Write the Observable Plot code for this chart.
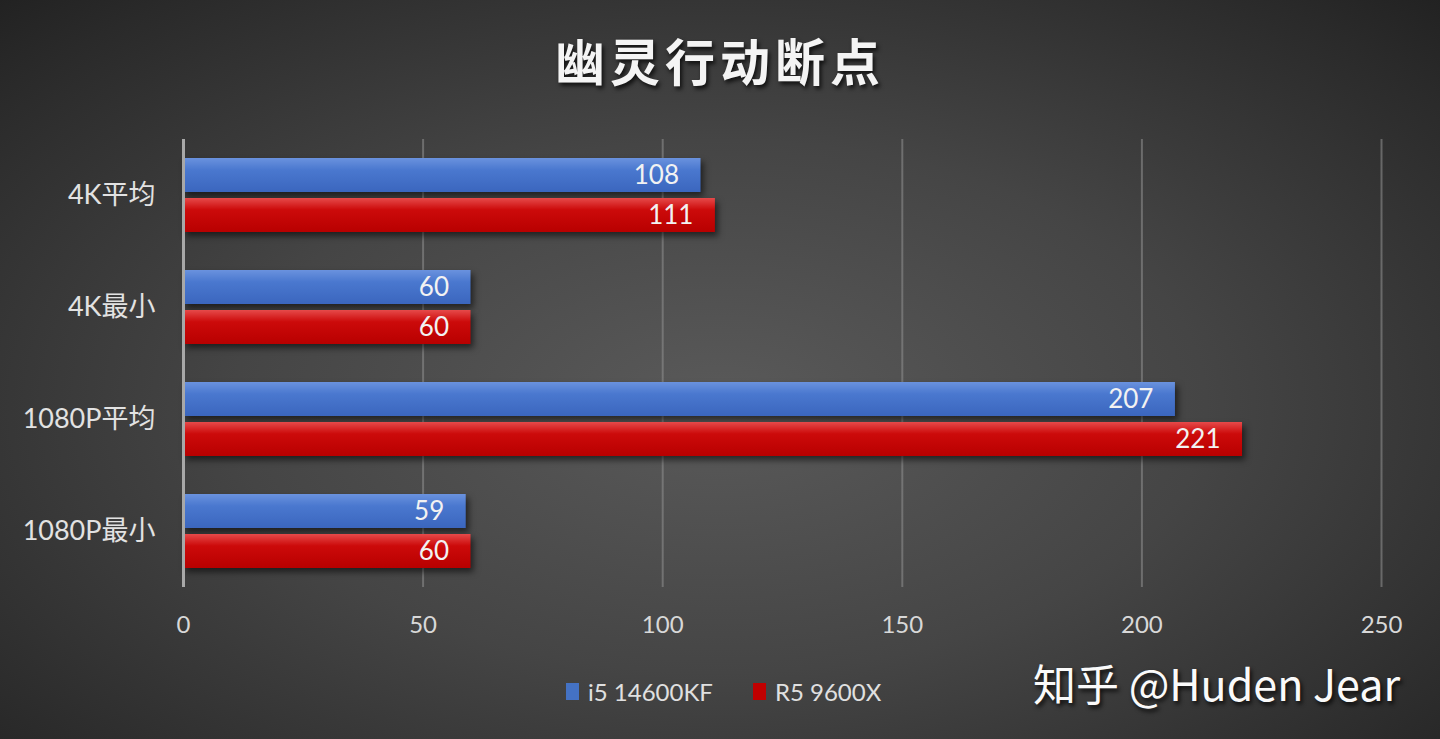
<!DOCTYPE html>
<html><head><meta charset="utf-8">
<script src="https://cdn.jsdelivr.net/npm/d3@7"></script>
<script src="https://cdn.jsdelivr.net/npm/@observablehq/plot@0.6"></script>
<style>
html,body{margin:0;padding:0;}
body{width:1440px;height:739px;overflow:hidden;
  background:radial-gradient(ellipse 75% 80% at 50% 55%, #5a5a5a 0%, #454545 45%, #2a2a2a 85%, #1f1f1f 100%);
  font-family:Lato,"Noto Sans CJK SC",sans-serif;}
#title{height:118px;display:flex;align-items:center;justify-content:center;box-sizing:border-box;
  color:#f4f4f4;font-family:"Noto Sans CJK SC",sans-serif;font-weight:700;font-size:50px;letter-spacing:5px;
  text-shadow:2px 3px 4px rgba(0,0,0,0.75);}
#chart{height:529px;}
#bottom{position:relative;height:92px;}
#legend{position:absolute;left:566px;top:30px;display:flex;align-items:center;color:#e0e0e0;font-size:24px;}
.sw{display:inline-block;width:13px;height:17px;margin-right:9px;}
.item{display:flex;align-items:center;margin-right:40px;}
#mark{position:absolute;left:1033px;top:4px;color:#fafafa;font-size:43px;font-family:"Noto Sans CJK SC",sans-serif;font-weight:400;
  text-shadow:2px 3px 4px rgba(0,0,0,0.8);}
</style>
</head><body>
<div id="title"></div>
<div id="chart"></div>
<div id="bottom"><div id="legend"></div><div id="mark"></div></div>
<script>
const chartTitle = "幽灵行动断点";
const watermark = "知乎 @Huden Jear";
const categories = ["4K平均", "4K最小", "1080P平均", "1080P最小"];
const series = ["i5 14600KF", "R5 9600X"];
const i5Values = [108, 60, 207, 59];
const r5Values = [111, 60, 221, 60];
const xTicks = [0, 50, 100, 150, 200, 250];
const seriesColors = ["#4472c4", "#c00000"];

const rows = categories.flatMap((c, i) => [
  {category: c, series: series[0], value: i5Values[i]},
  {category: c, series: series[1], value: r5Values[i]}
]);

document.getElementById("title").textContent = chartTitle;
document.getElementById("mark").textContent = watermark;
const legend = document.getElementById("legend");
series.forEach((s, i) => {
  const it = document.createElement("div"); it.className = "item";
  const sw = document.createElement("span"); sw.className = "sw"; sw.style.background = seriesColors[i];
  const t = document.createElement("span"); t.textContent = s;
  it.appendChild(sw); it.appendChild(t); legend.appendChild(it);
});

const defs = () => {
  const ns = "http://www.w3.org/2000/svg";
  const d = document.createElementNS(ns, "defs");
  const mk = (id, stops) => {
    const g = document.createElementNS(ns, "linearGradient");
    g.setAttribute("id", id); g.setAttribute("x1", "0"); g.setAttribute("y1", "0"); g.setAttribute("x2", "0"); g.setAttribute("y2", "1");
    stops.forEach(([o, c]) => {
      const s = document.createElementNS(ns, "stop");
      s.setAttribute("offset", o); s.setAttribute("stop-color", c); g.appendChild(s);
    });
    d.appendChild(g);
  };
  mk("gBlue", [["0", "#6a92de"], ["0.35", "#4a78cf"], ["1", "#3b66be"]]);
  mk("gRed", [["0", "#e64a4a"], ["0.35", "#cc0a0a"], ["1", "#b80000"]]);
  return d;
};

const shadow = "drop-shadow(3px 4px 3px rgba(0,0,0,0.55))";
const plot = Plot.plot({
  width: 1440,
  height: 529,
  marginTop: 20,
  marginBottom: 60,
  marginLeft: 183,
  marginRight: 59,
  style: {background: "transparent", fontFamily: "Lato, 'Noto Sans CJK SC', sans-serif", overflow: "visible"},
  x: {domain: [0, 250], axis: null},
  y: {domain: series, paddingInner: 0.16, paddingOuter: 0.46, axis: null},
  fy: {domain: categories, padding: 0, axis: null, label: null},
  marks: [
    defs,
    Plot.ruleX(xTicks.slice(1), {stroke: "#8c8c8c", strokeWidth: 2, strokeOpacity: 0.6}),
    Plot.barX(rows.filter(d => d.series === series[0]), {fy: "category", y: "series", x: "value", fill: "url(#gBlue)", imageFilter: shadow}),
    Plot.barX(rows.filter(d => d.series === series[1]), {fy: "category", y: "series", x: "value", fill: "url(#gRed)", imageFilter: shadow}),
    Plot.text(rows, {fy: "category", y: "series", x: "value", text: d => String(d.value), textAnchor: "end", dx: -22, fill: "#f2f2f2", fontSize: 26}),
    Plot.ruleX([0], {stroke: "#a8a8a8", strokeWidth: 3}),
    Plot.axisX(xTicks, {anchor: "bottom", tickSize: 0, tickPadding: 28, fontSize: 24, color: "#d8d8d8", label: null}),
    Plot.axisFy({anchor: "left", tickSize: 0, tickPadding: 28, fontSize: 27, color: "#e2e2e2", label: null})
  ]
});
document.getElementById("chart").appendChild(plot);
</script>
</body></html>
